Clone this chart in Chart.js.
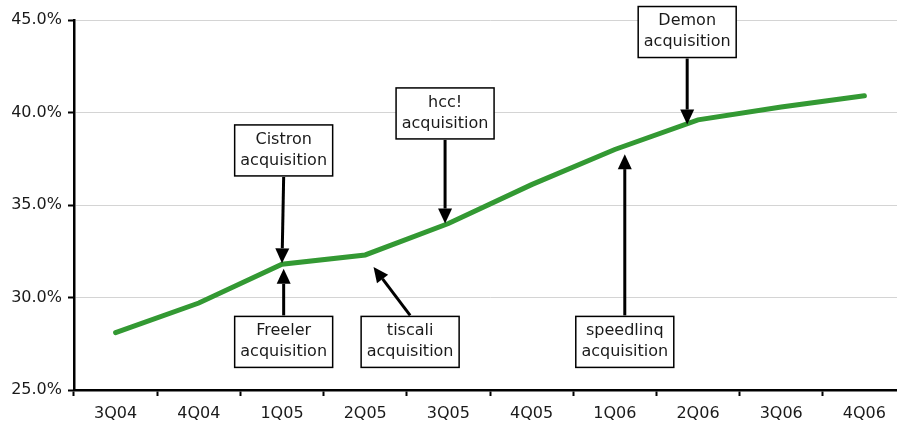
<!DOCTYPE html>
<html lang="en">
<head>
    <meta charset="UTF-8">
    <title>Acquisitions</title>
    <script src="https://cdn.jsdelivr.net/npm/chart.js"></script>
    <style>
        html, body {
            margin: 0;
            padding: 0;
            overflow: hidden;
            background: #fff;
        }
        .wrap {
            width: 906px;
            height: 427px;
        }
    </style>
</head>
<body>
    <div class="wrap">
        <canvas id="lineChart" width="906" height="427"></canvas>
    </div>

    <script>
        // data
        var quarters = ['3Q04', '4Q04', '1Q05', '2Q05', '3Q05', '4Q05', '1Q06', '2Q06', '3Q06', '4Q06'];
        var shareValues = [28.1, 29.7, 31.8, 32.3, 34.0, 36.1, 38.0, 39.6, 40.3, 40.9];
        var yTicks = [25, 30, 35, 40, 45];

        // callouts: text, where the box sits (category index / % value), where the arrow points
        var calloutNames = ['Cistron', 'Freeler', 'tiscali', 'hcc!', 'speedlinq', 'Demon'];
        var calloutBox = [[2.02, 37.95], [2.02, 27.6], [3.54, 27.6], [3.96, 39.95], [6.12, 27.6], [6.87, 44.35]];
        var calloutTip = [[2.0, 31.85], [2.02, 31.55], [3.1, 31.65], [3.96, 34.0], [6.12, 37.75], [6.87, 39.35]];

        var font = 'DejaVu Sans, Verdana, sans-serif';

        function arrow(ctx, x1, y1, x2, y2) {
            var ang = Math.atan2(y2 - y1, x2 - x1);
            var head = 15, half = 7;
            var bx = x2 - head * Math.cos(ang), by = y2 - head * Math.sin(ang);
            ctx.beginPath();
            ctx.moveTo(x1, y1);
            ctx.lineTo(bx, by);
            ctx.lineWidth = 3;
            ctx.strokeStyle = '#000';
            ctx.stroke();
            ctx.beginPath();
            ctx.moveTo(x2, y2);
            ctx.lineTo(bx + half * Math.sin(ang), by - half * Math.cos(ang));
            ctx.lineTo(bx - half * Math.sin(ang), by + half * Math.cos(ang));
            ctx.closePath();
            ctx.fillStyle = '#000';
            ctx.fill();
        }

        var calloutPlugin = {
            id: 'callouts',
            afterDatasetsDraw: function(chart) {
                var ctx = chart.ctx;
                var xs = chart.scales.x, ys = chart.scales.y;
                var w = 98, h = 51;
                ctx.save();
                for (var i = 0; i < calloutNames.length; i++) {
                    var cx = xs.getPixelForValue(calloutBox[i][0]);
                    var cy = ys.getPixelForValue(calloutBox[i][1]);
                    var tx = xs.getPixelForValue(calloutTip[i][0]);
                    var ty = ys.getPixelForValue(calloutTip[i][1]);
                    var sy = ty > cy ? cy + h / 2 + 1 : cy - h / 2 - 1;
                    arrow(ctx, cx, sy, tx, ty);

                    ctx.fillStyle = '#fff';
                    ctx.fillRect(cx - w / 2, cy - h / 2, w, h);
                    ctx.lineWidth = 1.5;
                    ctx.strokeStyle = '#000';
                    ctx.strokeRect(cx - w / 2, cy - h / 2, w, h);

                    ctx.fillStyle = '#1a1a1a';
                    ctx.font = '16px ' + font;
                    ctx.textAlign = 'center';
                    ctx.textBaseline = 'middle';
                    ctx.fillText(calloutNames[i], cx, cy - 11);
                    ctx.fillText('acquisition', cx, cy + 10);
                }
                ctx.restore();
            }
        };

        var ctx = document.getElementById('lineChart').getContext('2d');
        var lineChart = new Chart(ctx, {
            type: 'line',
            data: {
                labels: quarters,
                datasets: [{
                    data: shareValues,
                    borderColor: '#339933',
                    borderWidth: 5,
                    pointRadius: 0,
                    borderCapStyle: 'round',
                    tension: 0,
                    fill: false
                }]
            },
            options: {
                responsive: false,
                animation: false,
                layout: { padding: { top: 20, right: 0, left: 0, bottom: 0 } },
                plugins: {
                    legend: { display: false },
                    tooltip: { enabled: false }
                },
                scales: {
                    x: {
                        offset: true,
                        afterFit: function(s) { s.height = 37; },
                        grid: {
                            offset: true,
                            drawOnChartArea: false,
                            tickLength: 6,
                            tickColor: '#000',
                            tickWidth: 2
                        },
                        border: { color: '#000', width: 2.5 },
                        ticks: {
                            color: '#1a1a1a',
                            padding: 8,
                            maxRotation: 0,
                            font: { family: font, size: 16 }
                        }
                    },
                    y: {
                        min: 25,
                        max: 45,
                        afterFit: function(s) { s.width = 74; },
                        afterBuildTicks: function(s) {
                            s.ticks = yTicks.map(function(v) { return { value: v }; });
                        },
                        grid: {
                            color: '#d4d4d4',
                            lineWidth: 1,
                            tickLength: 6,
                            tickColor: '#000',
                            tickWidth: 2
                        },
                        border: { color: '#000', width: 2.5 },
                        ticks: {
                            color: '#1a1a1a',
                            padding: 6,
                            font: { family: font, size: 16 },
                            callback: function(v) { return v.toFixed(1) + '%'; }
                        }
                    }
                }
            },
            plugins: [calloutPlugin]
        });
    </script>
</body>
</html>
